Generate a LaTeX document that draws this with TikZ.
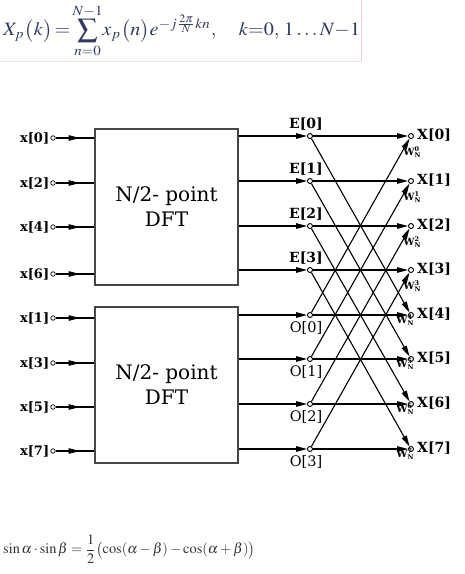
\documentclass[tikz,border=0pt]{standalone}
\usepackage{mathptmx}
\usepackage[no-math]{fontspec}
\setmainfont{DejaVu Serif}
\newfontfamily\dvserif{DejaVu Serif}
\usetikzlibrary{arrows.meta,decorations.markings,positioning}
\definecolor{fcol}{RGB}{50,58,92}
\definecolor{bcol}{RGB}{50,50,50}
\definecolor{boxcol}{RGB}{70,70,70}
\tikzset{
  dot/.style={circle,draw,fill=white,inner sep=0pt,minimum size=5pt,line width=0.9pt},
  arr/.style={line width=1.1pt,-{Triangle[length=11pt,width=5.5pt]}},
  midarr/.style={line width=1.1pt,postaction={decorate},
    decoration={markings,mark=at position 0.62 with {\arrow{Triangle[length=11pt,width=5.5pt]}}}},
  dftbox/.style={draw=boxcol,line width=1.2pt,fill=white,inner sep=0pt,minimum width=143pt,minimum height=156pt,
    font=\dvserif\fontsize{20}{25}\selectfont,align=center},
  inlab/.style={font=\dvserif\fontsize{13}{13}\selectfont\bfseries,inner sep=1pt},
  elab/.style={font=\dvserif\fontsize{14}{14}\selectfont\bfseries,inner sep=1pt},
  olab/.style={font=\dvserif\fontsize{14.5}{14.5}\selectfont,inner sep=1pt},
  wlab/.style={font=\dvserif\fontsize{10}{10}\selectfont\bfseries,inner sep=0pt},
}
\newcommand{\wfac}[1]{W\rlap{\raisebox{4pt}{\fontsize{6.5}{6.5}\selectfont\bfseries #1}}\raisebox{-2.5pt}{\fontsize{6.5}{6.5}\selectfont\bfseries N}}
\begin{document}
\begin{tikzpicture}[x=1pt,y=-1pt]
\useasboundingbox (0,0) rectangle (465,574);
% frame of top formula image
\draw[draw={rgb,255:red,232;green,212;blue,204},line width=0.8pt] (361.5,0) -- (361.5,62);
\draw[draw={rgb,255:red,232;green,232;blue,232},line width=0.8pt] (0,61.5) -- (361.5,61.5);
% top formula
\node[anchor=west,inner sep=0pt,text=fcol] (f1) at (3,31)
  {\resizebox*{357pt}{53pt}{$\displaystyle X_p\bigl(k\bigr)\!=\!\sum_{n=0}^{N-1}\!x_p\bigl(n\bigr)e^{-j\frac{2\pi}{N}kn},\quad k{=}0,\,1\,{\ldots}\,N{-}1$}};
% bottom formula
\node[anchor=west,inner sep=0pt,text=bcol] (f2) at (3,549)
  {\resizebox{252pt}{!}{$\displaystyle \sin\alpha\cdot\sin\beta=\frac{1}{2}\bigl(\cos(\alpha-\beta)-\cos(\alpha+\beta)\bigr)$}};
% boxes
\node[dftbox] (b1) at (166.5,207) {N/2- point\\DFT};
\node[dftbox] (b2) at (166.5,385) {N/2- point\\DFT};
% inputs
\foreach \lab/\nm/\y in {0/i0/138,2/i2/183,4/i4/227,6/i6/274,1/i1/318,3/i3/363,5/i5/407,7/i7/451}{
  \node[dot,minimum size=4.5pt,line width=0.7pt] (\nm) at (53,\y) {};
  \node[inlab,anchor=east] (\nm l) at (\nm.west) {x[\lab]};
}
\foreach \nm in {i0,i2,i4,i6}{\draw[midarr] (\nm) -- (b1.west |- \nm);}
\foreach \nm in {i1,i3,i5,i7}{\draw[midarr] (\nm) -- (b2.west |- \nm);}
% E and O nodes
\foreach \k/\y in {0/136,1/181,2/226,3/270}{
  \node[dot] (e\k) at (310,\y) {};
  \node[elab,anchor=south] (e\k l) at ([xshift=-4pt,yshift=2pt]e\k.north) {E[\k]};
  \draw[arr] (b1.east |- e\k) -- (e\k);
}
\foreach \k/\y in {0/315,1/359,2/404,3/449}{
  \node[dot] (o\k) at (310,\y) {};
  \node[olab,anchor=north] (o\k l) at ([xshift=-4pt,yshift=-2pt]o\k.south) {O[\k]};
  \draw[arr] (b2.east |- o\k) -- (o\k);
}
% outputs
\foreach \k/\y in {0/136,1/181,2/226,3/270,4/315,5/359,6/404,7/449}{
  \node[dot] (X\k) at (411,\y) {};
  \node[elab,anchor=west] (X\k l) at ([xshift=2pt,yshift=1pt]X\k.east) {X[\k]};
}
% butterflies
\foreach \k [evaluate=\k as \m using int(\k+4)] in {0,1,2,3}{
  \draw[arr] (e\k) -- (X\k);
  \draw[arr] (e\k) -- (X\m);
  \draw[arr] (o\k) -- (X\k);
  \draw[arr] (o\k) -- (X\m);
}
% twiddle factors
\foreach \k in {0,1,2,3}{
  \node[wlab] (w\k) at ([xshift=1pt,yshift=-16pt]X\k) {\wfac{\k}};
}
\foreach \k in {4,5,6,7}{
  \node[wlab] (w\k) at ([xshift=-6pt,yshift=-5pt]X\k) {\wfac{\k}};
}
\end{tikzpicture}
\end{document}
